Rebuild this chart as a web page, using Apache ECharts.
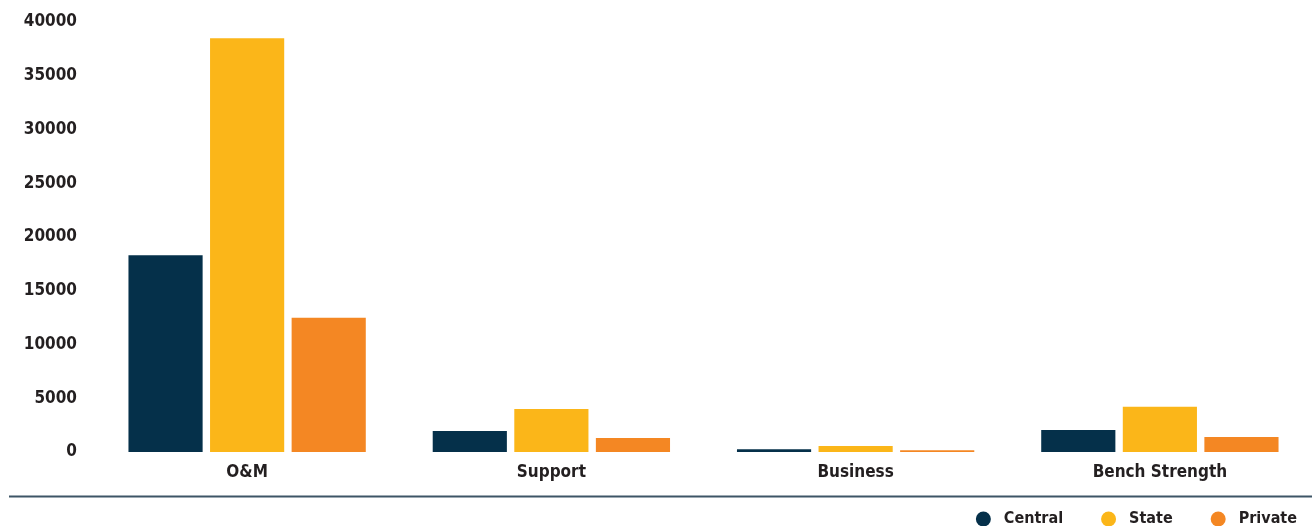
<!DOCTYPE html>
<html>
<head>
<meta charset="utf-8">
<script src="https://cdn.jsdelivr.net/npm/echarts@6/dist/echarts.min.js"></script>
<style>
  html, body { margin: 0; padding: 0; background: #ffffff; }
  #chart { width: 1312px; height: 526px; }
</style>
</head>
<body>
<div id="chart"></div>
<script>
// Workforce by role category and sector
const categories = ['O&M', 'Support', 'Business', 'Bench Strength'];
const centralValues = [18300, 1950, 250, 2050];
const stateValues = [38500, 4000, 560, 4200];
const privateValues = [12500, 1300, 160, 1400];
const yTicks = [0, 5000, 10000, 15000, 20000, 25000, 30000, 35000, 40000];

const FONT = "'DejaVu Sans Condensed', 'DejaVu Sans', sans-serif";
const TEXT = '#231f20';

const chart = echarts.init(document.getElementById('chart'), null, { renderer: 'canvas' });

chart.setOption({
  animation: false,
  color: ['#05304a', '#fbb619', '#f48723'],
  grid: { left: 95, right: 0, top: 22, bottom: 74 },
  legend: {
    right: 10,
    top: 506,
    icon: 'circle',
    itemWidth: 15,
    itemHeight: 15,
    itemGap: 38,
    textStyle: { fontFamily: FONT, fontWeight: 'bold', fontSize: 16, color: TEXT, padding: [0, 0, 0, 8] },
    data: ['Central', 'State', 'Private']
  },
  xAxis: {
    type: 'category',
    data: categories,
    axisLine: { show: false },
    axisTick: { show: false },
    axisLabel: { margin: 12, fontFamily: FONT, fontWeight: 'bold', fontSize: 17, color: TEXT }
  },
  yAxis: {
    type: 'value',
    min: yTicks[0],
    max: yTicks[yTicks.length - 1],
    interval: yTicks[1] - yTicks[0],
    splitLine: { show: false },
    axisLine: { show: false },
    axisTick: { show: false },
    axisLabel: {
      margin: 18,
      fontFamily: FONT,
      fontWeight: 'bold',
      fontSize: 17,
      color: TEXT,
      formatter: (v) => String(v)
    }
  },
  graphic: [{
    type: 'line',
    shape: { x1: 9, y1: 496.5, x2: 1312, y2: 496.5 },
    style: { stroke: '#3d5566', lineWidth: 2 }
  }],
  series: [
    { name: 'Central', type: 'bar', data: centralValues, barGap: '10%', barCategoryGap: '22%' },
    { name: 'State', type: 'bar', data: stateValues },
    { name: 'Private', type: 'bar', data: privateValues }
  ]
});
</script>
</body>
</html>
